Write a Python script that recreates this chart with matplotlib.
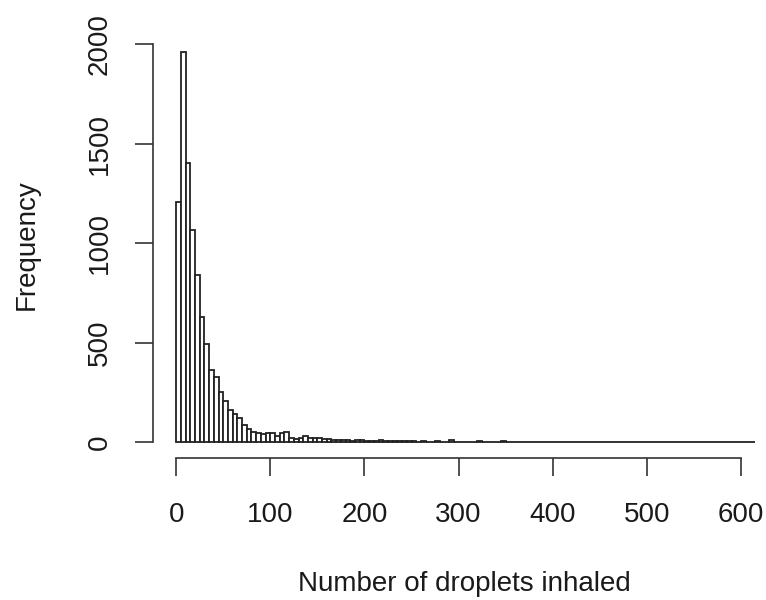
import matplotlib.pyplot as plt
import numpy as np

plt.rcParams['font.family'] = ['Liberation Sans', 'DejaVu Sans']

# histogram of droplets inhaled, bins of width 5
bin_width = 5
counts = [1205, 1960, 1405, 1065, 840, 628, 495, 360, 325, 250,
          208, 162, 140, 122, 85, 66, 52, 45, 40, 47,
          47, 30, 45, 48, 20, 14, 18, 28, 22, 18,
          20, 14, 16, 10, 8, 12, 8, 6, 8, 10,
          6, 5, 7, 8, 6, 4, 5, 6, 3, 4,
          3, 2, 3, 2, 2, 3, 2, 1, 8, 2,
          2, 1, 2, 1, 7, 2, 1, 2, 1, 7,
          1, 2, 1, 1, 2, 1, 1, 2, 1, 1,
          1, 1, 1, 2, 1, 1, 1, 1, 2, 1,
          1, 1, 1, 1, 1, 1, 1, 1, 1, 1,
          1, 1, 1, 1, 1, 1, 1, 1, 1, 1,
          1, 1, 1, 1, 1, 1, 1, 1, 1, 1,
          1, 1, 1]
edges = np.arange(len(counts) + 1) * bin_width
x_ticks = [0, 100, 200, 300, 400, 500, 600]
y_ticks = [0, 500, 1000, 1500, 2000]

fig = plt.figure(figsize=(7.66, 6), dpi=100)
ax = fig.add_axes([153 / 766, 1 - 457.6 / 600, 1 - 153 / 766, (457.6 - 36.8) / 600])

ax.bar(edges[:-1], counts, width=bin_width, align='edge',
       color='white', edgecolor='#222222', linewidth=1.3)

ax.set_xlim(-24.6, (766 - 176) / 0.9417)
ax.set_ylim(-78.4, 2038)

for s in ['top', 'right']:
    ax.spines[s].set_visible(False)
ax.spines['left'].set_bounds(0, 2000)
ax.spines['bottom'].set_bounds(0, 600)
ax.spines['left'].set_color('#333333')
ax.spines['bottom'].set_color('#333333')
ax.spines['left'].set_linewidth(1.2)
ax.spines['bottom'].set_linewidth(1.2)

ax.set_xticks(x_ticks)
ax.set_yticks(y_ticks)
ax.set_yticklabels([str(v) for v in y_ticks], rotation=90, va='center')
ax.tick_params(axis='both', length=13, width=1.2, color='#333333',
               labelsize=20, labelcolor='#1a1a1a', direction='out')
ax.tick_params(axis='x', pad=19)
ax.tick_params(axis='y', pad=16)

fig.text(464 / 766, 1 - 584 / 600, 'Number of droplets inhaled', fontsize=20,
         ha='center', va='center', color='#1a1a1a')
fig.text(27 / 766, 1 - 245 / 600, 'Frequency', fontsize=20, rotation=90,
         ha='center', va='center', color='#1a1a1a')

fig.savefig('out.png', dpi=100)
